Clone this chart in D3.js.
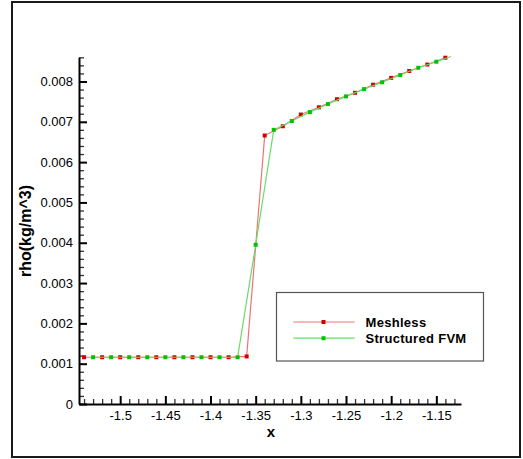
<!DOCTYPE html>
<html>
<head>
<meta charset="utf-8">
<script src="https://cdn.jsdelivr.net/npm/d3@7"></script>
<style>
	body { margin: 0; background: #fff; }
	svg { display: block; font-family: Arial, "Liberation Sans", sans-serif; }
	.axis text { font-size: 13px; fill: #000; }
	.axis .domain { stroke: #000; stroke-width: 2px; }
	.axis.major .tick line { stroke: #000; stroke-width: 2px; }
	.axis.minor .tick line { stroke: #333; stroke-width: 1.3px; }
	.axis.minor .domain { display: none; }
</style>
</head>
<body>
<script>
// Meshless: markers every 0.02 starting at -1.54
var meshlessX = [ -1.54, -1.52, -1.50, -1.48, -1.46, -1.44, -1.42, -1.40, -1.38, -1.36,
	-1.34, -1.32, -1.30, -1.28, -1.26, -1.24, -1.22, -1.20, -1.18, -1.16, -1.14 ];
var meshlessY = [ 0.00116, 0.00116, 0.00116, 0.00116, 0.00116, 0.00116, 0.00116, 0.00116, 0.00116, 0.00118,
	0.00666, 0.00689, 0.00718, 0.00736, 0.00756, 0.00772, 0.00792, 0.00809, 0.00826, 0.00842, 0.00859 ];

// Structured FVM: markers every 0.02 starting at -1.53
var fvmX = [ -1.53, -1.51, -1.49, -1.47, -1.45, -1.43, -1.41, -1.39, -1.37,
	-1.35, -1.33, -1.31, -1.29, -1.27, -1.25, -1.23, -1.21, -1.19, -1.17, -1.15 ];
var fvmY = [ 0.00116, 0.00116, 0.00116, 0.00116, 0.00116, 0.00116, 0.00116, 0.00116, 0.00116,
	0.00395, 0.00680, 0.00702, 0.00724, 0.00744, 0.00763, 0.00781, 0.00798, 0.00816, 0.00834, 0.00849 ];

// line continues past the last marker
var fvmLineEnd = [ -1.134, 0.00862 ];

var xMajor = [ -1.5, -1.45, -1.4, -1.35, -1.3, -1.25, -1.2, -1.15 ];
var yMajor = [ 0, 0.001, 0.002, 0.003, 0.004, 0.005, 0.006, 0.007, 0.008 ];
var xDomain = [ -1.5456, -1.1227 ];
var yDomain = [ 0, 0.0086 ];

var series = [
	{ name: 'Meshless', xs: meshlessX, ys: meshlessY, line: '#f07272', marker: '#d00000' },
	{ name: 'Structured FVM', xs: fvmX, ys: fvmY, line: '#66dd66', marker: '#00c400', end: fvmLineEnd }
];

var width = 523;
var height = 459;

var plot = { left: 79, right: 461, top: 57.3, bottom: 404 };

var svg = d3.select( 'body' ).append( 'svg' )
	.attr( 'width', width )
	.attr( 'height', height );

// outer frame
svg.append( 'rect' )
	.attr( 'x', 12 ).attr( 'y', 2 )
	.attr( 'width', 508 ).attr( 'height', 455 )
	.attr( 'fill', 'none' )
	.attr( 'stroke', '#1a1a1a' )
	.attr( 'stroke-width', 2 );

var scales = {};
scales.x = d3.scaleLinear().domain( xDomain ).range( [ plot.left, plot.right ] );
scales.y = d3.scaleLinear().domain( yDomain ).range( [ plot.bottom, plot.top ] );

// minor ticks
var xMinor = d3.range( -154, -112 ).map( function ( d ) { return d / 100; } )
	.filter( function ( d ) { return Math.abs( d * 20 - Math.round( d * 20 ) ) > 1e-6; } );
var yMinor = d3.range( 0, 44 ).map( function ( d ) { return d * 0.0002; } )
	.filter( function ( d ) { return Math.abs( d * 1000 - Math.round( d * 1000 ) ) > 1e-6; } );

svg.append( 'g' ).attr( 'class', 'axis minor' )
	.attr( 'transform', 'translate(0,' + plot.bottom + ')' )
	.call( d3.axisBottom( scales.x ).tickValues( xMinor ).tickSizeInner( -5 ).tickSizeOuter( 0 ).tickFormat( '' ) );

svg.append( 'g' ).attr( 'class', 'axis minor' )
	.attr( 'transform', 'translate(' + plot.left + ',0)' )
	.call( d3.axisLeft( scales.y ).tickValues( yMinor ).tickSizeInner( -5 ).tickSizeOuter( 0 ).tickFormat( '' ) );

svg.append( 'g' ).attr( 'class', 'axis major' )
	.attr( 'transform', 'translate(0,' + plot.bottom + ')' )
	.call( d3.axisBottom( scales.x ).tickValues( xMajor ).tickSizeInner( -8 ).tickSizeOuter( 0 ).tickPadding( 7 )
		.tickFormat( function ( d ) { return String( d ); } ) );

svg.append( 'g' ).attr( 'class', 'axis major' )
	.attr( 'transform', 'translate(' + plot.left + ',0)' )
	.call( d3.axisLeft( scales.y ).tickValues( yMajor ).tickSizeInner( -8 ).tickSizeOuter( 0 ).tickPadding( 6 )
		.tickFormat( function ( d ) { return d === 0 ? '0' : d3.format( '.3f' )( d ); } ) );

// axis titles
svg.append( 'text' )
	.attr( 'x', 271 ).attr( 'y', 437 )
	.attr( 'text-anchor', 'middle' )
	.style( 'font-size', '15px' ).style( 'font-weight', 'bold' )
	.text( 'x' );

svg.append( 'text' )
	.attr( 'transform', 'translate(31,231) rotate(-90)' )
	.attr( 'text-anchor', 'middle' )
	.style( 'font-size', '16px' ).style( 'font-weight', 'bold' )
	.text( 'rho(kg/m^3)' );

var line = d3.line()
	.x( function ( d ) { return scales.x( d[0] ); } )
	.y( function ( d ) { return scales.y( d[1] ); } );

series.forEach( function ( s ) {
	var pts = s.xs.map( function ( x, i ) { return [ x, s.ys[i] ]; } );
	var linePts = s.end ? pts.concat( [ s.end ] ) : pts;

	svg.append( 'path' )
		.datum( linePts )
		.attr( 'd', line )
		.attr( 'fill', 'none' )
		.attr( 'stroke', s.line )
		.attr( 'stroke-width', 1.2 );

	svg.append( 'g' ).selectAll( 'rect' )
		.data( pts )
		.enter()
		.append( 'rect' )
		.attr( 'x', function ( d ) { return scales.x( d[0] ) - 2; } )
		.attr( 'y', function ( d ) { return scales.y( d[1] ) - 2; } )
		.attr( 'width', 4 )
		.attr( 'height', 4 )
		.attr( 'fill', s.marker );
} );

// legend
var legend = svg.append( 'g' ).attr( 'transform', 'translate(276.5,292.5)' );
legend.append( 'rect' )
	.attr( 'width', 207 ).attr( 'height', 68.5 )
	.attr( 'fill', '#fff' )
	.attr( 'stroke', '#555' )
	.attr( 'stroke-width', 1.2 );

series.forEach( function ( s, i ) {
	var y = 29.5 + i * 16.2;
	legend.append( 'line' )
		.attr( 'x1', 17 ).attr( 'x2', 78 )
		.attr( 'y1', y ).attr( 'y2', y )
		.attr( 'stroke', s.line )
		.attr( 'stroke-width', 1.2 );
	legend.append( 'rect' )
		.attr( 'x', 45 ).attr( 'y', y - 2 )
		.attr( 'width', 4 ).attr( 'height', 4 )
		.attr( 'fill', s.marker );
	legend.append( 'text' )
		.attr( 'x', 89 ).attr( 'y', y + 4.5 )
		.style( 'font-size', '13px' ).style( 'font-weight', 'bold' )
		.style( 'letter-spacing', '0.3px' )
		.text( s.name );
} );
</script>
</body>
</html>
